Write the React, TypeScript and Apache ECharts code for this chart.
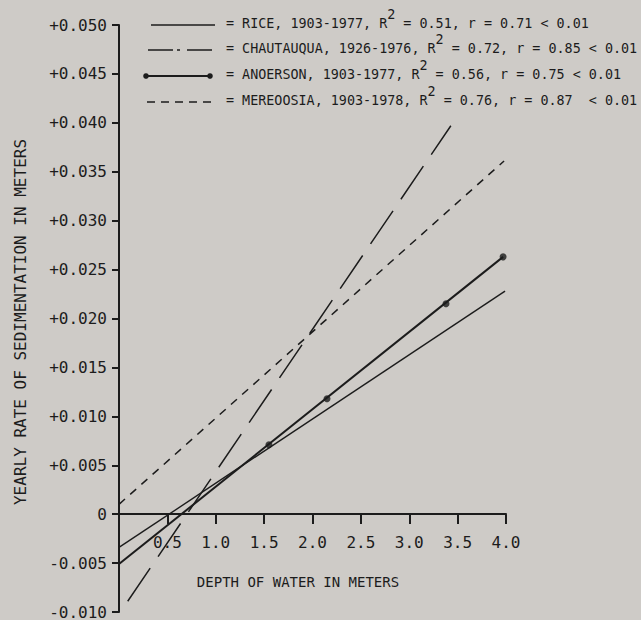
import React, { useEffect, useRef } from "react";
import * as echarts from "echarts";

// ---- data ----
const riceLine: number[][] = [[0, -0.0034], [3.99, 0.0228]];
const chautauquaLine: number[][] = [[0.09, -0.0089], [3.43, 0.0397]];
const andersonLine: number[][] = [[0, -0.0051], [3.97, 0.0263]];
const andersonPoints: number[][] = [[1.55, 0.0071], [2.15, 0.0118], [3.38, 0.0215], [3.97, 0.0263]];
const mereodosiaLine: number[][] = [[0, 0.001], [3.98, 0.0361]];
const xTickValues: number[] = [0.5, 1.0, 1.5, 2.0, 2.5, 3.0, 3.5, 4.0];

const legendNames = ["RICE", "CHAUTAUQUA", "ANOERSON", "MEREOOSIA"];
const legendYears = ["1903-1977", "1926-1976", "1903-1977", "1903-1978"];
const legendR2 = ["0.51", "0.72", "0.56", "0.76"];
const legendR = ["0.71", "0.85", "0.75", "0.87"];
const legendP = ["< 0.01", "< 0.01", "< 0.01", " < 0.01"];

const xAxisTitle = "DEPTH OF WATER IN METERS";
const yAxisTitle = "YEARLY RATE OF SEDIMENTATION IN METERS";

const INK = "#1c1c1c";
const BG = "#cecbc7";
const MONO = "'DejaVu Sans Mono', 'Liberation Mono', monospace";

const GRID_TOP = 25;
const GRID_BOTTOM = 8;
const CHART_H = 620;

export default function App() {
  const ref = useRef<HTMLDivElement>(null);
  useEffect(() => {
    if (!ref.current) return;
    const chart = echarts.init(ref.current, null, { renderer: "svg" });

    const plotH = CHART_H - GRID_TOP - GRID_BOTTOM;
    const zeroY = GRID_TOP + (0.05 / 0.06) * plotH;
    const zeroToBottom = CHART_H - GRID_BOTTOM - zeroY;

    const rowY = [25, 50, 76, 102];
    const lx0 = 148;
    const lx1 = 213;
    const legendGraphics: any[] = [];
    rowY.forEach((y, i) => {
      if (i === 0) {
        legendGraphics.push({ type: "line", shape: { x1: lx0 + 3, y1: y, x2: lx1 + 2, y2: y }, style: { stroke: INK, lineWidth: 1.4 } });
      } else if (i === 1) {
        legendGraphics.push({ type: "line", shape: { x1: lx0, y1: y, x2: lx1, y2: y }, style: { stroke: INK, lineWidth: 1.5, lineDash: [25, 4, 3, 7] } });
      } else if (i === 2) {
        legendGraphics.push({ type: "line", shape: { x1: lx0 - 2, y1: y, x2: lx1 - 3, y2: y }, style: { stroke: INK, lineWidth: 2 } });
        legendGraphics.push({ type: "circle", shape: { cx: lx0 - 2, cy: y, r: 2.8 }, style: { fill: INK } });
        legendGraphics.push({ type: "circle", shape: { cx: lx1 - 3, cy: y, r: 2.8 }, style: { fill: INK } });
      } else {
        legendGraphics.push({ type: "line", shape: { x1: lx0 - 1, y1: y, x2: lx1, y2: y }, style: { stroke: INK, lineWidth: 1.5, lineDash: [8, 6] } });
      }
      legendGraphics.push({
        type: "text",
        left: 226,
        top: y - 17,
        style: {
          text:
            `{n|= ${legendNames[i]}, ${legendYears[i]}, R}{s|2}{n| = ${legendR2[i]}, r = ${legendR[i]} ${legendP[i]}}`,
          fill: INK,
          rich: {
            n: { fontFamily: MONO, fontSize: 13.4, fill: INK, lineHeight: 16, verticalAlign: "bottom" },
            s: { fontFamily: MONO, fontSize: 13.4, fill: INK, lineHeight: 16, padding: [0, 0, 9, 0], verticalAlign: "bottom" },
          },
        },
      });
    });

    const xBase = { type: "value", min: 0, max: 4, interval: 0.5, splitLine: { show: false } };

    chart.setOption({
      animation: false,
      backgroundColor: BG,
      grid: { left: 119, right: 135, top: GRID_TOP, bottom: GRID_BOTTOM, containLabel: false },
      xAxis: [
        {
          ...xBase,
          position: "bottom",
          axisLine: { onZero: true, lineStyle: { color: INK, width: 2 } },
          axisTick: { show: false },
          axisLabel: { show: false },
        },
        {
          ...xBase,
          position: "bottom",
          offset: -zeroToBottom,
          axisLine: { show: false, onZero: false },
          axisTick: { show: false },
          axisLabel: {
            margin: 20,
            fontFamily: MONO,
            fontSize: 16,
            color: INK,
            formatter: (v: number) => (v === 0 ? "" : v.toFixed(1)),
          },
        },
      ],
      yAxis: {
        type: "value",
        min: -0.01,
        max: 0.05,
        interval: 0.005,
        axisLine: { show: true, onZero: false, lineStyle: { color: INK, width: 2 } },
        axisTick: { show: true, length: 7, lineStyle: { color: INK, width: 2 } },
        axisLabel: {
          margin: 12,
          fontFamily: MONO,
          fontSize: 16,
          color: INK,
          formatter: (v: number) => {
            const r = Math.round(v * 1000) / 1000;
            if (r === 0) return "0";
            return (r > 0 ? "+" : "-") + Math.abs(r).toFixed(3);
          },
        },
        splitLine: { show: false },
      },
      graphic: [
        ...legendGraphics,
        {
          type: "text",
          x: 20,
          y: 322,
          rotation: Math.PI / 2,
          style: {
            text: yAxisTitle,
            fontFamily: MONO,
            fontSize: 16,
            fill: INK,
            align: "center",
            verticalAlign: "middle",
          },
        },
        {
          type: "text",
          x: 298,
          y: 582,
          style: {
            text: xAxisTitle,
            fontFamily: MONO,
            fontSize: 14,
            fill: INK,
            align: "center",
            verticalAlign: "middle",
          },
        },
      ],
      series: [
        {
          name: "RICE",
          type: "line",
          data: riceLine,
          symbol: "none",
          lineStyle: { color: INK, width: 1.4 },
          markLine: {
            silent: true,
            symbol: ["none", "none"],
            label: { show: false },
            lineStyle: { color: INK, width: 2, type: "solid" },
            data: xTickValues.map((v) => [{ coord: [v, 0] }, { coord: [v, -0.001] }]),
          },
        },
        {
          name: "CHAUTAUQUA",
          type: "line",
          data: chautauquaLine,
          symbol: "none",
          lineStyle: { color: INK, width: 1.5, type: [40, 14] },
        },
        {
          name: "ANDERSON",
          type: "line",
          data: andersonLine,
          symbol: "none",
          lineStyle: { color: INK, width: 2 },
        },
        {
          name: "ANDERSON points",
          type: "scatter",
          data: andersonPoints,
          symbolSize: 7,
          itemStyle: { color: INK },
        },
        {
          name: "MEREDOSIA",
          type: "line",
          data: mereodosiaLine,
          symbol: "none",
          lineStyle: { color: INK, width: 1.5, type: [8, 7] },
        },
      ],
    });
    return () => chart.dispose();
  }, []);
  return (
    <div
      ref={ref}
      style={{ position: "fixed", left: 0, top: 0, width: 641, height: 620 }}
    />
  );
}
